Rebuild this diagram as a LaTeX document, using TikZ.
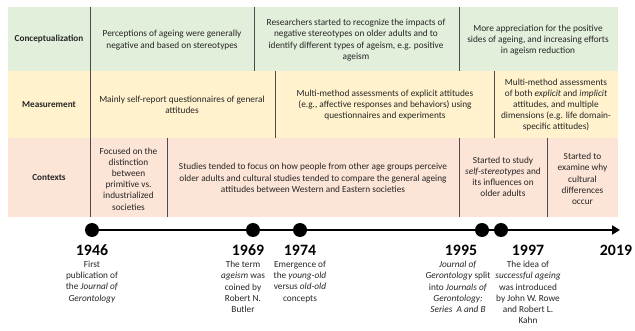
\documentclass[tikz,border=0pt]{standalone}
\usepackage{fontspec}
\setmainfont{Carlito}
\usetikzlibrary{arrows.meta}
\definecolor{conceptbg}{RGB}{226,239,218}
\definecolor{measurebg}{RGB}{255,242,204}
\definecolor{contextbg}{RGB}{252,228,214}
\definecolor{inkgray}{RGB}{38,38,38}

\begin{document}
\begin{tikzpicture}[x=1pt,y=-1pt]
        \tikzstyle{every node}+=[inner sep=0pt, text=inkgray, font=\fontsize{9.3}{11.2}\selectfont]
        \tikzstyle{cell}=[align=center]
        \tikzstyle{rowhead}=[font=\fontsize{9.2}{11.2}\selectfont\bfseries]
        \tikzstyle{divider}=[draw=black!70, line width=0.8pt]
        \tikzstyle{year}=[font=\fontsize{15.8}{18}\selectfont\bfseries, text=black]
        \tikzstyle{event}=[align=center, anchor=north]
        \tikzstyle{dot}=[circle, fill=black, minimum size=14pt]
        \useasboundingbox (0,0) rectangle (635,331);
        \fill [conceptbg] (8,7) rectangle (618,71);
        \fill [measurebg] (8,71) rectangle (618,138);
        \fill [contextbg] (8,138) rectangle (618,217);
        \draw [divider] (90,7) -- (90,217);
        \draw [divider] (254,7) -- (254,71);
        \draw [divider] (459,7) -- (459,71);
        \draw [divider] (275,71) -- (275,138);
        \draw [divider] (494,71) -- (494,138);
        \draw [divider] (167,138) -- (167,217);
        \draw [divider] (459,138) -- (459,217);
        \draw [divider] (547,138) -- (547,217);
        % table rows
        \node [rowhead] (conc) at (49,39) {Conceptualization};
        \node [cell] (conc1) at (172,40) {Perceptions of ageing were generally\\negative and based on stereotypes};
        \node [cell] (conc2) at (356,40) {Researchers started to recognize the impacts of\\negative stereotypes on older adults and to\\identify different types of ageism, e.g. positive\\ageism};
        \node [cell] (conc3) at (538,40) {More appreciation for the positive\\sides of ageing, and increasing efforts\\in ageism reduction};
        \node [rowhead] (meas) at (49,105) {Measurement};
        \node [cell] (meas1) at (182,105) {Mainly self-report questionnaires of general\\attitudes};
        \node [cell] (meas2) at (385,105) {Multi-method assessments of explicit attitudes\\(e.g., affective responses and behaviors) using\\questionnaires and experiments};
        \node [cell] (meas3) at (556,105) {Multi-method assessments\\of both \textit{explicit} and \textit{implicit}\\attitudes, and multiple\\dimensions (e.g. life domain-\\specific attitudes)};
        \node [rowhead] (ctx) at (49,178) {Contexts};
        \node [cell] (ctx1) at (128.5,179) {Focused on the\\distinction\\between\\primitive vs.\\industrialized\\societies};
        \node [cell] (ctx2) at (313,178) {Studies tended to focus on how people from other age groups perceive\\older adults and cultural studies tended to compare the general ageing\\attitudes between Western and Eastern societies};
        \node [cell] (ctx3) at (503,177) {Started to study\\\textit{self-stereotypes} and\\its influences on\\older adults};
        \node [cell] (ctx4) at (582.5,179) {Started to\\examine why\\cultural\\differences\\occur};
        % timeline
        \coordinate (y1946) at (92,230);
        \coordinate (y1969) at (253,230);
        \coordinate (y1974) at (300,230);
        \coordinate (y1995) at (482,230);
        \coordinate (y1997) at (501,230);
        \coordinate (y2019) at (620,230);
        \draw [black, line width=2.8pt, -{Triangle[length=8pt,width=9pt]}] (y1946) -- (y2019);
        \foreach \yr in {1946,1969,1974,1995,1997}
                \node [dot] (dot\yr) at (y\yr) {};
        \node [year] (t1946) at (92,250) {1946};
        \node [year] (t1969) at (248,250) {1969};
        \node [year] (t1974) at (300,250) {1974};
        \node [year] (t1995) at (461,250) {1995};
        \node [year] (t1997) at (528,250) {1997};
        \node [year] (t2019) at (616,250) {2019};
        \node [event] (e1946) at (92,261) {First\\publication of\\the \textit{Journal of}\\\textit{Gerontology}};
        \node [event] (e1969) at (243,261) {The term\\\textit{ageism} was\\coined by\\Robert N.\\Butler};
        \node [event] (e1974) at (300,261) {Emergence of\\the \textit{young-old}\\versus \textit{old-old}\\concepts};
        \node [event] (e1995) at (458,261) {\textit{Journal of}\\\textit{Gerontology} split\\into \textit{Journals of}\\\textit{Gerontology:}\\\textit{Series\ \ A and B}};
        \node [event] (e1997) at (528,261) {The idea of\\\textit{successful ageing}\\was introduced\\by John W. Rowe\\and Robert L.\\Kahn};
\end{tikzpicture}
\end{document}
